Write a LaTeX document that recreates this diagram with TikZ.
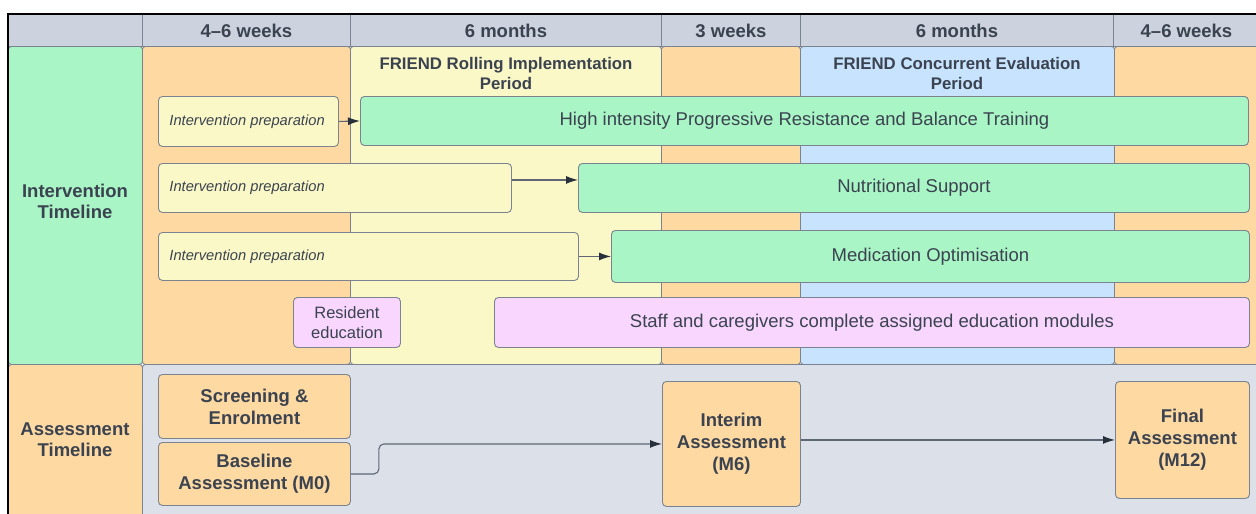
\documentclass[tikz,border=0pt]{standalone}
\usepackage{fontspec}
\setmainfont{Liberation Sans}
\usetikzlibrary{arrows.meta}
\definecolor{hdr}{HTML}{CCD3DE}
\definecolor{grn}{HTML}{A9F5C6}
\definecolor{org}{HTML}{FED9A1}
\definecolor{yel}{HTML}{FAF8C6}
\definecolor{blu}{HTML}{C7E3FD}
\definecolor{pnk}{HTML}{F8D6FD}
\definecolor{asb}{HTML}{DCE1E9}
\definecolor{txt}{HTML}{3B4350}
\definecolor{strk}{HTML}{7A838F}
\definecolor{linec}{HTML}{5E6773}
\definecolor{tipc}{HTML}{28303B}
\tikzset{
  cell/.style={draw=strk, line width=0.9pt, anchor=north west, inner sep=0pt, text=txt, align=center},
  hcell/.style={cell, fill=hdr, font=\fontsize{18.5}{22}\selectfont\bfseries},
  col/.style={cell, rounded corners=3pt},
  bx/.style={draw=strk, line width=0.9pt, rounded corners=4pt, anchor=north west, inner sep=0pt, text=txt, align=center},
  gbox/.style={bx, fill=grn, font=\fontsize{18.5}{22}\selectfont},
  pbox/.style={bx, fill=pnk, font=\fontsize{18.5}{22}\selectfont},
  prepbox/.style={bx, fill=yel, inner xsep=11pt, align=flush left, font=\fontsize{14.7}{18}\selectfont\itshape},
  abox/.style={bx, fill=org, font=\fontsize{18.5}{22}\selectfont\bfseries},
  lbl/.style={text=txt, align=center, inner sep=0pt},
  arr/.style={draw=linec, line width=1.1pt, -{Latex[length=12pt,width=8pt,color=tipc]}}
}
\begin{document}
\begin{tikzpicture}[x=1pt,y=-1pt]
\useasboundingbox (0,0) rectangle (1256,514);
\fill[white] (0,0) rectangle (1256,514);
% header row
\node[hcell, minimum width=134pt, minimum height=32pt] (h0) at (8,14) {};
\node[hcell, minimum width=208pt, minimum height=32pt] (h1) at (142,14) {4–6 weeks};
\node[hcell, minimum width=311pt, minimum height=32pt] (h2) at (350,14) {6 months};
\node[hcell, minimum width=139pt, minimum height=32pt] (h3) at (661,14) {3 weeks};
\node[hcell, minimum width=313pt, minimum height=32pt] (h4) at (800,14) {6 months};
\node[hcell, minimum width=146pt, minimum height=32pt] (h5) at (1113,14) {4–6 weeks};
% intervention columns
\node[col, fill=grn, minimum width=134pt, minimum height=318pt] (lint) at (8,46) {};
\node[col, fill=org, minimum width=208pt, minimum height=318pt] (c1) at (142,46) {};
\node[col, fill=yel, minimum width=311pt, minimum height=318pt] (c2) at (350,46) {};
\node[col, fill=org, minimum width=139pt, minimum height=318pt] (c3) at (661,46) {};
\node[col, fill=blu, minimum width=314pt, minimum height=318pt] (c4) at (800,46) {};
\node[col, fill=org, minimum width=146pt, minimum height=318pt] (c5) at (1114,46) {};
% assessment row
\node[col, fill=org, minimum width=134pt, minimum height=154pt] (lass) at (8,364) {};
\node[col, fill=asb, minimum width=1120pt, minimum height=154pt] (abg) at (142,364) {};
% outer frame
\draw[black, line width=2.4pt] (8,520) -- (8,14) -- (1260,14);
% row labels
\node[lbl, font=\fontsize{18.5}{21}\selectfont\bfseries] (tint) at (75,201) {Intervention\\Timeline};
\node[lbl, font=\fontsize{18.5}{21}\selectfont\bfseries] (tass) at (75,439.5) {Assessment\\Timeline};
% period labels
\node[lbl, font=\fontsize{16.8}{20}\selectfont\bfseries] (per1) at (506,73) {FRIEND Rolling Implementation\\Period};
\node[lbl, font=\fontsize{16.8}{20}\selectfont\bfseries] (per2) at (957,73) {FRIEND Concurrent Evaluation\\Period};
% intervention boxes
\node[prepbox, text width=158pt, minimum height=50pt] (p1) at (158,96) {Intervention~preparation};
\node[gbox, minimum width=888pt, minimum height=49pt] (g1) at (360,96) {High intensity Progressive Resistance and Balance Training};
\node[prepbox, text width=331pt, minimum height=49pt] (p2) at (158,163) {Intervention preparation};
\node[gbox, minimum width=671pt, minimum height=49pt] (g2) at (578,163) {Nutritional Support};
\node[prepbox, text width=398pt, minimum height=48pt] (p3) at (158,232) {Intervention preparation};
\node[gbox, minimum width=638pt, minimum height=52pt] (g3) at (611,230) {Medication Optimisation};
\node[pbox, minimum width=107pt, minimum height=50pt, font=\fontsize{16.5}{19.5}\selectfont] (r1) at (293,297) {Resident\\education};
\node[pbox, minimum width=755pt, minimum height=50pt] (s1) at (494,297) {Staff and caregivers complete assigned education modules};
% intervention arrows
\draw[arr] (p1.east) -- (g1.west);
\draw[arr] ([yshift=8pt]p2.east) -- ([yshift=8pt]p2.east -| g2.west);
\draw[arr] (p3.east) -- (g3.west);
% assessment boxes
\node[abox, minimum width=192pt, minimum height=64pt] (a1) at (158,374) {Screening \&\\Enrolment};
\node[abox, minimum width=192pt, minimum height=63pt] (a2) at (158,442) {Baseline\\Assessment (M0)};
\node[abox, minimum width=138pt, minimum height=125pt] (a3) at (662,381) {Interim\\Assessment\\(M6)};
\node[abox, minimum width=134pt, minimum height=117pt] (a4) at (1115,381) {Final\\Assessment\\(M12)};
% assessment arrows
\draw[arr, rounded corners=5pt] (a2.east) -- ++(28,0) |- (a3.west);
\draw[arr] (a3.east |- a4.west) -- (a4.west);
\end{tikzpicture}
\end{document}
